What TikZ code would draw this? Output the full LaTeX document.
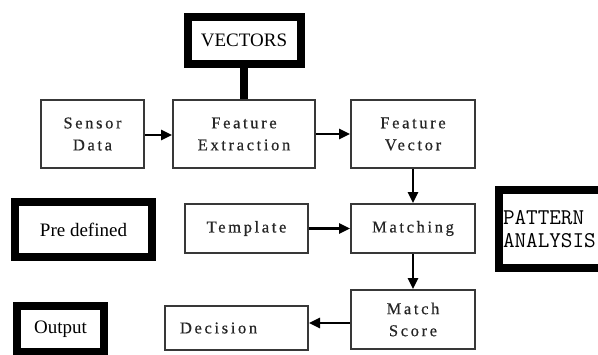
\documentclass[tikz,border=0pt]{standalone}
\usepackage{fontspec}
\setmainfont{Liberation Serif}
\newfontfamily\spaced[LetterSpace=16,FakeBold=0.5]{Liberation Serif}
\usetikzlibrary{arrows.meta}
\begin{document}
\begin{tikzpicture}[x=1pt,y=-1pt,
blk/.style={rectangle,draw=black!78,line width=2pt,inner sep=0pt,align=center,text=black!85,font=\spaced\fontsize{16.5}{22}\selectfont},
tag/.style={rectangle,draw=black,line width=8pt,inner sep=0pt,align=center,font=\fontsize{19}{22}\selectfont},
flow/.style={line width=2.5pt,-{Triangle[length=11pt,width=10pt]}}]
\useasboundingbox (0,0) rectangle (598,354);
% labels in thick frames
\node [tag,minimum width=113pt,minimum height=47pt] (vectors) at (244,40) {VECTORS};
\node [tag,minimum width=137pt,minimum height=55pt] (predef) at (83.5,229.5) {Pre defined};
\node [tag,minimum width=87pt,minimum height=46pt] (output) at (60.5,329) {Output};
\node [tag,anchor=west,minimum height=78pt,text width=116pt,inner xsep=4pt,align=left,font=\ttfamily\fontsize{22.5}{23}\selectfont] (pattern) at (495,229) {PATTERN\\ANALYSIS};
% blocks
\node [blk,minimum width=103pt,minimum height=68pt] (sensor) at (92.5,134) {Sensor\\Data};
\node [blk,minimum width=142pt,minimum height=68pt] (extract) at (244,134) {Feature\\Extraction};
\node [blk,minimum width=124pt,minimum height=68pt] (fvector) at (413,134) {Feature\\Vector};
\node [blk,minimum width=123pt,minimum height=49pt] (template) at (246.5,228.5) {Template};
\node [blk,minimum width=124pt,minimum height=49pt] (match) at (413,228.5) {Matching};
\node [blk,minimum width=124pt,minimum height=59pt] (score) at (413,319.5) {Match\\Score};
\node [blk,minimum height=44pt,text width=113pt,inner xsep=15pt,align=left] (decision) at (236.5,328) {Decision};
% connectors
\draw [line width=8pt] (vectors) -- (extract);
\draw [flow] (sensor.east |- 0,135) -- (extract.west |- 0,135);
\draw [flow] (extract.east) -- (fvector.west);
\draw [flow] (fvector) -- (match);
\draw [flow] (template.east) -- (match.west);
\draw [flow] (match) -- (score);
\draw [flow] ([yshift=-3.5pt]score.west) -- ([yshift=-3.5pt]score.west -| decision.east);
\end{tikzpicture}
\end{document}
